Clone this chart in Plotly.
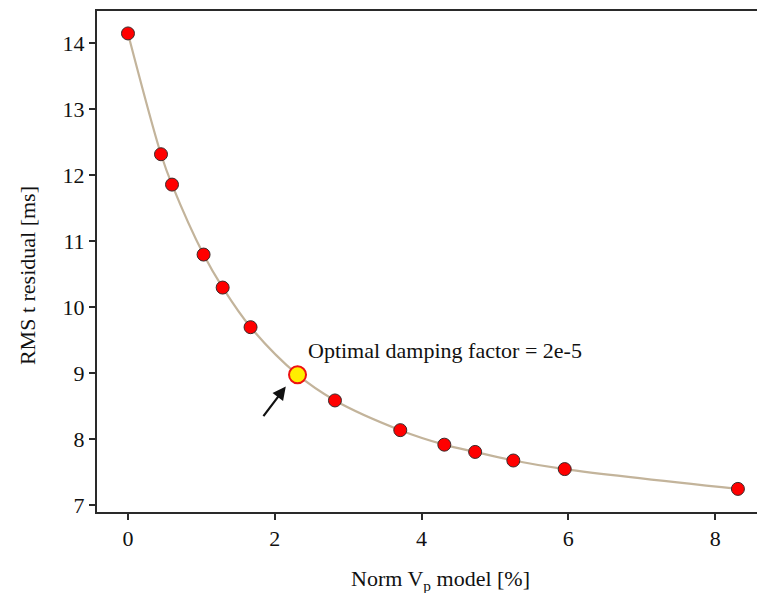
import plotly.graph_objects as go

# L-curve: model norm vs. RMS travel-time residual for a range of damping factors
norm_vp = [0.0, 0.45, 0.60, 1.03, 1.29, 1.67, 2.31, 2.82, 3.71, 4.31, 4.73, 5.25, 5.95, 8.31]
rms_res = [14.15, 12.32, 11.86, 10.80, 10.30, 9.70, 8.98, 8.59, 8.14, 7.92, 7.81, 7.68, 7.55, 7.25]
optimal_idx = 6
opt_label = "Optimal damping factor = 2e-5"
x_title = "Norm V<sub>p</sub> model [%]"
y_title = "RMS t residual [ms]"

font_family = "Liberation Serif, Times New Roman, serif"
axis_color = "#2a2a2a"

other_x = [v for i, v in enumerate(norm_vp) if i != optimal_idx]
other_y = [v for i, v in enumerate(rms_res) if i != optimal_idx]
opt_x = norm_vp[optimal_idx]
opt_y = rms_res[optimal_idx]

fig = go.Figure()

# smooth curve through all solutions
fig.add_trace(go.Scatter(
    x=norm_vp, y=rms_res, mode="lines",
    line=dict(color="#c3b49b", width=2.2, shape="spline", smoothing=1.0),
    hoverinfo="skip", showlegend=False,
))

# individual damping solutions
fig.add_trace(go.Scatter(
    x=other_x, y=other_y, mode="markers",
    marker=dict(color="#ff0000", size=13, line=dict(color="#3a2a2a", width=1)),
    showlegend=False,
))

# chosen damping factor
fig.add_trace(go.Scatter(
    x=[opt_x], y=[opt_y], mode="markers",
    marker=dict(color="#ffee00", size=17, line=dict(color="#ee1111", width=2)),
    showlegend=False,
))

fig.add_annotation(
    x=opt_x + 0.12, y=opt_y + 0.37, xref="x", yref="y",
    text=opt_label, showarrow=False, xanchor="left", yanchor="middle",
    font=dict(family=font_family, size=22, color="#111111"),
)

# arrow pointing at the chosen solution
fig.add_annotation(
    x=opt_x - 0.16, y=opt_y - 0.18, xref="x", yref="y",
    ax=opt_x - 0.48, ay=opt_y - 0.65, axref="x", ayref="y",
    text="", showarrow=True, arrowhead=2, arrowsize=1.2, arrowwidth=2.2,
    arrowcolor="#111111",
)

# axis titles
fig.add_annotation(
    x=0.52, y=-0.136, xref="paper", yref="paper",
    text=x_title, showarrow=False, xanchor="center", yanchor="middle",
    font=dict(family=font_family, size=22, color="#111111"),
)
fig.add_annotation(
    x=-0.106, y=0.471, xref="paper", yref="paper",
    text=y_title, showarrow=False, textangle=-90,
    xanchor="center", yanchor="middle",
    font=dict(family=font_family, size=22, color="#111111"),
)

fig.update_layout(
    width=757, height=593,
    margin=dict(l=97, r=0, t=11, b=81),
    paper_bgcolor="white", plot_bgcolor="white",
    font=dict(family=font_family, size=22, color="#111111"),
    xaxis=dict(
        range=[-0.422, 8.57], tickvals=[0, 2, 4, 6, 8],
        showline=True, linecolor=axis_color, linewidth=2, mirror=True,
        ticks="outside", ticklen=6, tickwidth=2, tickcolor=axis_color,
        showgrid=False, zeroline=False,
    ),
    yaxis=dict(
        range=[6.90, 14.49], tickvals=[7, 8, 9, 10, 11, 12, 13, 14],
        showline=True, linecolor=axis_color, linewidth=2,
        ticks="outside", ticklen=6, tickwidth=2, tickcolor=axis_color,
        showgrid=False, zeroline=False,
    ),
)

fig.write_html("out.html")
